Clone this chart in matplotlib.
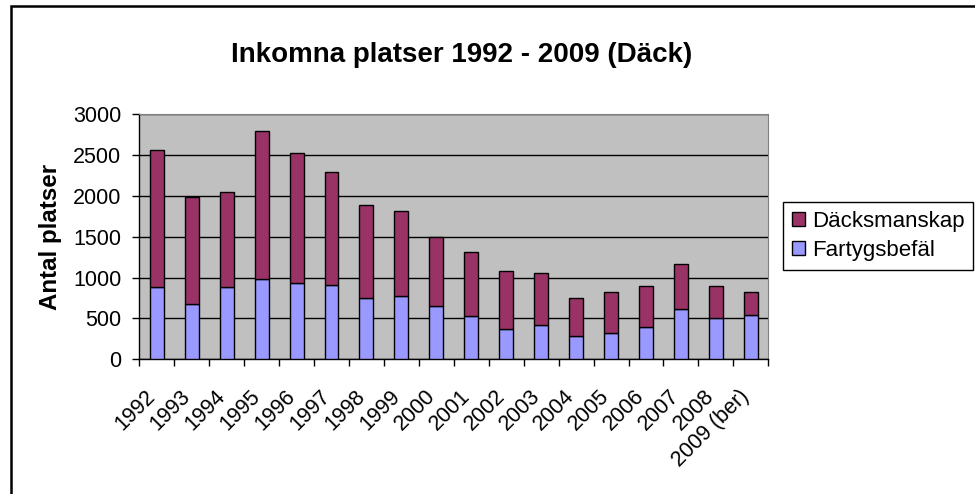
import matplotlib as mpl
mpl.use('Agg')
import matplotlib.pyplot as plt
import matplotlib.transforms as mtransforms
import numpy as np
from matplotlib.patches import Rectangle

plt.rcParams['font.family'] = ['Liberation Sans', 'DejaVu Sans']

# Data
years = ['1992', '1993', '1994', '1995', '1996', '1997', '1998', '1999',
         '2000', '2001', '2002', '2003', '2004', '2005', '2006', '2007',
         '2008', '2009 (ber)']
fartygsbefal = [890, 675, 880, 985, 935, 915, 750, 780,
                655, 525, 375, 415, 290, 320, 395, 615, 505, 545]
totalt = [2560, 1990, 2050, 2800, 2525, 2290, 1885, 1810,
          1500, 1315, 1080, 1060, 750, 820, 895, 1170, 895, 820]
dacksmanskap = [t - f for t, f in zip(totalt, fartygsbefal)]

fig = plt.figure(figsize=(9.75, 4.94), dpi=100)
ax = fig.add_axes([139.3 / 975, 1 - 359.3 / 494, 629 / 975, 245 / 494])

x = np.arange(len(years))
ax.bar(x, fartygsbefal, width=0.4, color='#9999FF', edgecolor='black',
       linewidth=1, label='Fartygsbefäl', zorder=3)
ax.bar(x, dacksmanskap, width=0.4, bottom=fartygsbefal, color='#993366',
       edgecolor='black', linewidth=1, label='Däcksmanskap', zorder=3)

ax.set_facecolor('#C0C0C0')
ax.set_xlim(-0.5, len(years) - 0.5)
ax.set_ylim(0, 3000)
ax.set_yticks(np.arange(0, 3001, 500))
ax.yaxis.grid(True, color='black', linewidth=1, zorder=1)
ax.set_axisbelow(True)

# ticks between categories, labels at the centres
ax.set_xticks(np.arange(-0.5, len(years), 1.0))
ax.set_xticklabels([])
ax.set_xticks(x, minor=True)
ax.set_xticklabels(years, minor=True, rotation=45, ha='right',
                   rotation_mode='anchor', fontsize=15.5)
ax.tick_params(axis='x', which='minor', length=0, pad=19)
ax.tick_params(axis='x', which='major', length=5, width=1, direction='out')
ax.tick_params(axis='y', length=5, width=1, direction='out', pad=8,
               labelsize=15.5)
shift = mtransforms.ScaledTranslation(-12 / 100, 0, fig.dpi_scale_trans)
for lbl in ax.get_xticklabels(minor=True):
    lbl.set_transform(lbl.get_transform() + shift)

for s in ['top', 'right']:
    ax.spines[s].set_color('#808080')
for s in ['left', 'bottom']:
    ax.spines[s].set_color('black')
    ax.spines[s].set_linewidth(1)

ax.set_ylabel('Antal platser', fontsize=17.4, fontweight='bold', labelpad=8)

fig.text(462 / 975, 1 - 55 / 494, 'Inkomna platser 1992 - 2009 (Däck)',
         ha='center', va='center', fontsize=20, fontweight='bold')

handles, labels = ax.get_legend_handles_labels()
leg = fig.legend(handles[::-1], labels[::-1], loc='upper left',
                 bbox_to_anchor=(783 / 975, 1 - 202 / 494),
                 bbox_transform=fig.transFigure, borderaxespad=0,
                 fontsize=16, handlelength=0.6, handleheight=0.6,
                 handletextpad=0.3, fancybox=False, framealpha=1,
                 edgecolor='black', borderpad=0.4, labelspacing=0.35)
leg.get_frame().set_linewidth(1)

# outer chart border
fig.patches.append(Rectangle((11 / 975, -0.1), 1.2, 1 - 6 / 494 + 0.1,
                             transform=fig.transFigure, fill=False,
                             edgecolor='black', linewidth=1.8))

plt.savefig('out.png', dpi=100)
